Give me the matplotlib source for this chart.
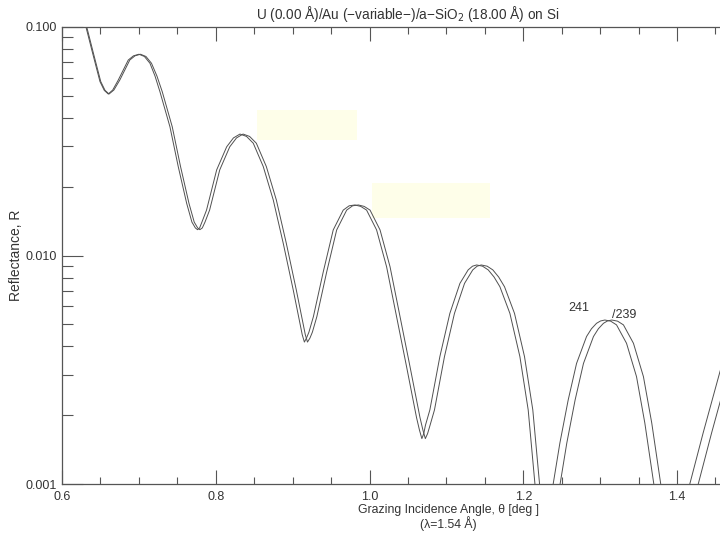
# %% Biblioteki
import matplotlib.pyplot as plt
from matplotlib.patches import Rectangle
from matplotlib.ticker import FixedLocator, MultipleLocator, NullFormatter

plt.rcParams["font.family"] = ["Liberation Sans", "DejaVu Sans"]

# %% Dane
kat_241 = [
    0.6234, 0.6312, 0.6399, 0.6494, 0.6550, 0.6602, 0.6660, 0.6732, 0.6862,
    0.6930, 0.7001, 0.7072, 0.7144, 0.7210, 0.7274, 0.7404, 0.7512, 0.7622,
    0.7690, 0.7735, 0.7763, 0.7790, 0.7820, 0.7880, 0.8012, 0.8142, 0.8230,
    0.8315, 0.8400, 0.8488, 0.8618, 0.8748, 0.8878, 0.9008, 0.9095, 0.9125,
    0.9153, 0.9180, 0.9212, 0.9270, 0.9398, 0.9528, 0.9658, 0.9735, 0.9810,
    0.9886, 0.9962, 1.0092, 1.0222, 1.0352, 1.0482, 1.0612, 1.0650, 1.0681,
    1.0705, 1.0728, 1.0785, 1.0915, 1.1045, 1.1176, 1.1283, 1.1340, 1.1393,
    1.1470, 1.1544, 1.1620, 1.1696, 1.1826, 1.1956, 1.2064, 1.2153, 1.2270,
    1.2389, 1.2476, 1.2584, 1.2693, 1.2823, 1.2887, 1.2953, 1.3005, 1.3061,
    1.3137, 1.3213, 1.3343, 1.3473, 1.3581, 1.3698, 1.3930, 1.4166, 1.4339,
    1.4557, 1.4700,
]
kat_239 = [
    0.6244, 0.6322, 0.6409, 0.6504, 0.6560, 0.6612, 0.6675, 0.6752, 0.6882,
    0.6950, 0.7021, 0.7092, 0.7164, 0.7235, 0.7304, 0.7434, 0.7542, 0.7652,
    0.7720, 0.7765, 0.7793, 0.7825, 0.7860, 0.7920, 0.8052, 0.8182, 0.8270,
    0.8355, 0.8440, 0.8528, 0.8658, 0.8788, 0.8918, 0.9048, 0.9135, 0.9165,
    0.9193, 0.9225, 0.9257, 0.9315, 0.9443, 0.9573, 0.9703, 0.9780, 0.9855,
    0.9931, 1.0007, 1.0137, 1.0267, 1.0397, 1.0527, 1.0657, 1.0695, 1.0726,
    1.0755, 1.0788, 1.0845, 1.0975, 1.1105, 1.1236, 1.1343, 1.1400, 1.1453,
    1.1530, 1.1604, 1.1680, 1.1756, 1.1886, 1.2016, 1.2124, 1.2213, 1.2360,
    1.2479, 1.2566, 1.2674, 1.2783, 1.2913, 1.2977, 1.3043, 1.3095, 1.3151,
    1.3227, 1.3303, 1.3433, 1.3563, 1.3671, 1.3788, 1.4040, 1.4276, 1.4449,
    1.4667, 1.4810,
]
refl = [
    0.131, 0.100, 0.0767, 0.0577, 0.0528, 0.0509, 0.0530, 0.0586, 0.0717,
    0.0748, 0.0760, 0.0743, 0.0694, 0.0610, 0.0521, 0.0366, 0.0245, 0.0169,
    0.0140, 0.0132, 0.01297, 0.0132, 0.0140, 0.0158, 0.0237, 0.0299, 0.0327,
    0.0340, 0.0332, 0.0310, 0.0245, 0.0175, 0.0113, 0.00706, 0.00505, 0.00450,
    0.00418, 0.00435, 0.00462, 0.00540, 0.00847, 0.01294, 0.0158, 0.0165, 0.01664,
    0.0164, 0.0158, 0.01294, 0.00893, 0.00540, 0.00326, 0.00195, 0.00172, 0.00158,
    0.00166, 0.00181, 0.00211, 0.00361, 0.00558, 0.00755, 0.00865, 0.00898, 0.00909,
    0.00898, 0.00865, 0.00805, 0.00730, 0.00558, 0.00361, 0.00211, 0.00099, 0.0005,
    0.00100, 0.00151, 0.00233, 0.00337, 0.00442, 0.00478, 0.00505, 0.00517, 0.00522,
    0.00516, 0.00497, 0.00413, 0.00295, 0.00185, 0.00100, 0.0004, 0.00100, 0.00167,
    0.00309, 0.0045,
]

yticks = [0.001, 0.01, 0.1]
ytick_labels = ["0.001", "0.010", "0.100"]
xticks = [0.6, 0.8, 1.0, 1.2, 1.4]
xtick_labels = ["0.6", "0.8", "1.0", "1.2", "1.4"]

# %% Wykres
fig = plt.figure(figsize=(7.2, 5.4), dpi=100)
ax = fig.add_axes([0.0861, 0.1037, 0.961, 0.8463])

kolor = "#505050"
ax.plot(kat_241, refl, color=kolor, lw=0.7, solid_joinstyle="round")
ax.plot(kat_239, refl, color=kolor, lw=0.7, solid_joinstyle="round")

ax.set_yscale("log")
ax.set_xlim(0.6, 1.5)
ax.set_ylim(0.001, 0.1)

ax.xaxis.set_major_locator(FixedLocator(xticks))
ax.xaxis.set_minor_locator(MultipleLocator(0.05))
ax.set_xticklabels(xtick_labels)
ax.yaxis.set_major_locator(FixedLocator(yticks))
ax.set_yticklabels(ytick_labels)
ax.yaxis.set_minor_formatter(NullFormatter())

ax.tick_params(which="both", direction="in", top=True, right=False,
               colors="#555555", labelcolor="#333333", labelsize=9, width=0.8)
ax.tick_params(axis="x", which="major", length=10, pad=5)
ax.tick_params(axis="x", which="minor", length=5)
ax.tick_params(axis="y", which="major", length=15)
ax.tick_params(axis="y", which="minor", length=8)
for s in ax.spines.values():
    s.set_color("#555555")
    s.set_linewidth(0.9)

ax.set_title("U (0.00 Å)/Au (−variable−)/a−SiO$_2$ (18.00 Å) on Si",
             fontsize=9.8, color="#333333", pad=6)
ax.set_xlabel("Grazing Incidence Angle, θ [deg ]\n(λ=1.54 Å)", x=0.558,
              fontsize=8.8, color="#333333", labelpad=1, linespacing=0.95)
ax.set_ylabel("Reflectance, R", fontsize=10, color="#333333", labelpad=2)

# bladożółte ślady karteczek
ax.add_patch(Rectangle((0.8536, 0.0320), 0.13, 0.0114, facecolor="#fefee9",
                       edgecolor="none", zorder=0))
ax.add_patch(Rectangle((1.0031, 0.0146), 0.1535, 0.0062, facecolor="#fefee9",
                       edgecolor="none", zorder=0))

# odręczne opisy
ax.text(1.258, 0.0059, "241", fontsize=9, color="#333333", ha="left", va="center")
ax.text(1.316, 0.0055, "/239", fontsize=9, color="#333333", ha="left", va="center")

fig.savefig("out.png", dpi=100)
